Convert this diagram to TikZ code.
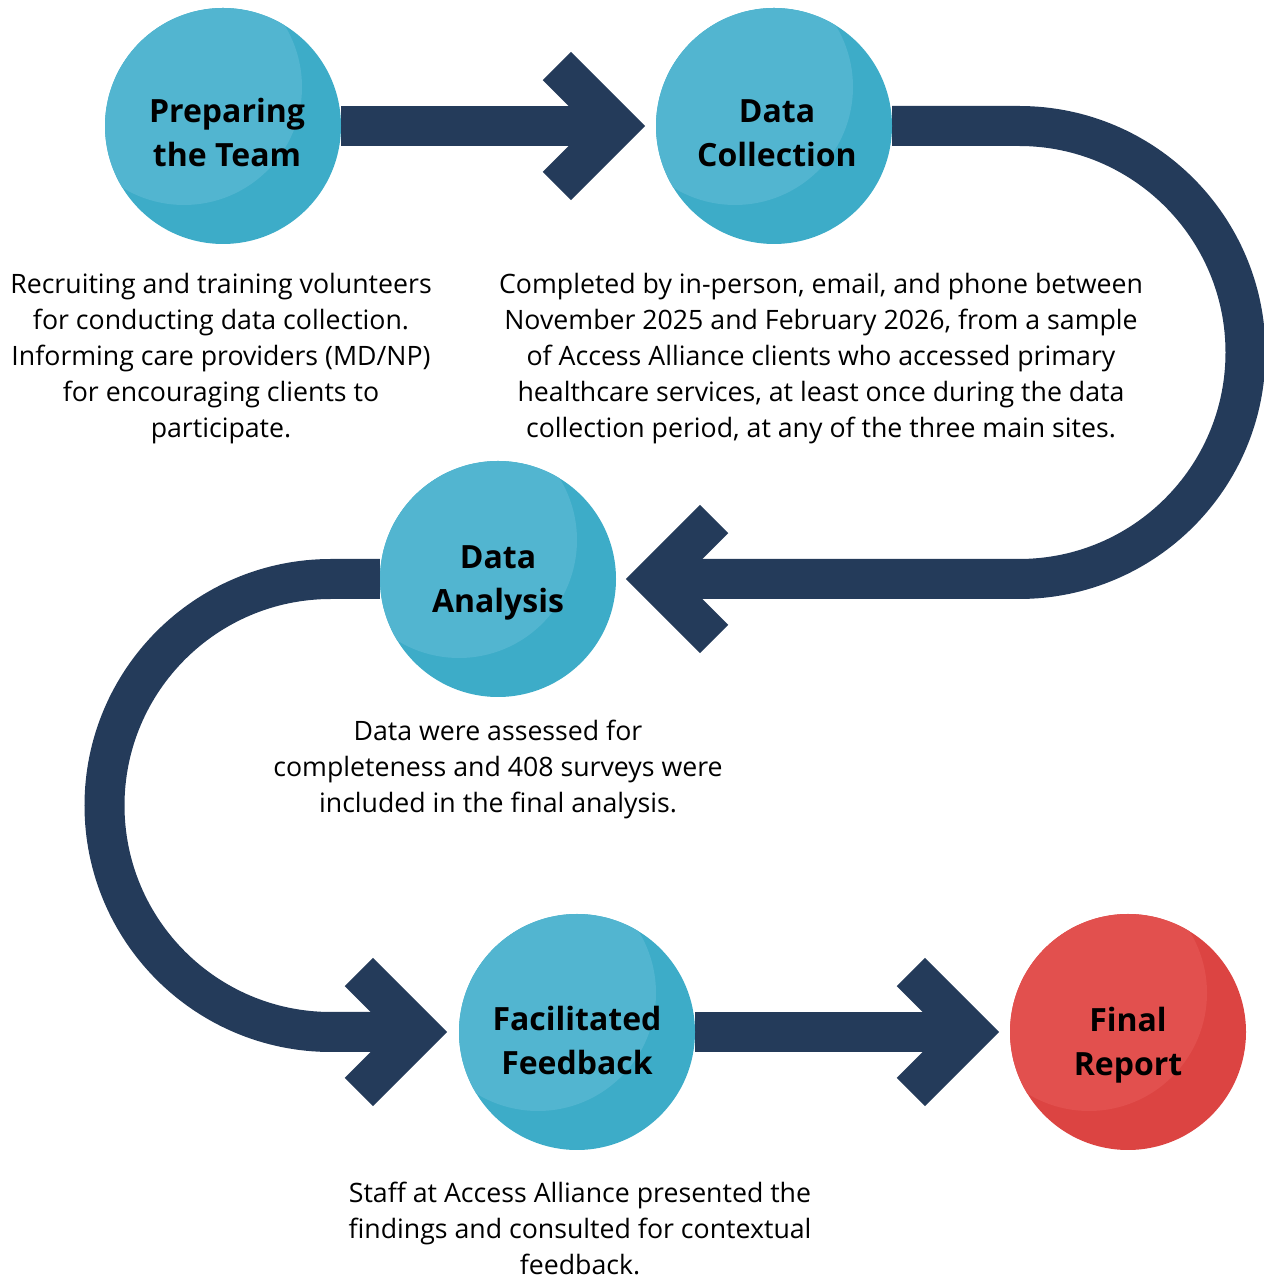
\documentclass[tikz,border=0pt]{standalone}
\usepackage{fontspec}
\setmainfont{Open Sans}
\usetikzlibrary{backgrounds}

\definecolor{navy}{HTML}{243B5A}
\definecolor{tealhi}{HTML}{52B5D0}
\definecolor{teallo}{HTML}{3DACC8}
\definecolor{redhi}{HTML}{E2504E}
\definecolor{redlo}{HTML}{DC4442}

\tikzset{
  stage/.style 2 args={circle, minimum size=236pt, inner sep=0pt, fill=#1,
    path picture={\fill[#2] ([shift={(-39,39)}]path picture bounding box.center) circle[radius=118];}},
  title/.style={font=\bfseries\fontsize{32}{44}\selectfont, align=center, inner sep=0pt},
  note/.style={font=\fontsize{26.7}{36}\selectfont, align=center, inner sep=0pt},
  band/.style={draw=navy, line width=40pt},
  chev/.pic={\draw[band] (-60,60) -- (0,0) -- (-60,-60);}
}

\begin{document}
\begin{tikzpicture}[x=1pt, y=1pt]
    \useasboundingbox (0,0) rectangle (1264,1278);

    % the five stages
    \node[stage={teallo}{tealhi}] (prep) at (223,1152) {};
    \node[stage={teallo}{tealhi}] (coll) at (774,1152) {};
    \node[stage={teallo}{tealhi}] (anal) at (498,699) {};
    \node[stage={teallo}{tealhi}] (feed) at (577,246) {};
    \node[stage={redlo}{redhi}] (final) at (1128,246) {};

    \node[title] (prep-t) at ([shift={(4,-7)}]prep) {Preparing\\the Team};
    \node[title] (coll-t) at ([shift={(3,-7)}]coll) {Data\\Collection};
    \node[title] (anal-t) at ([yshift=-4]anal) {Data\\Analysis};
    \node[title] (feed-t) at ([yshift=-9]feed) {Facilitated\\Feedback};
    \node[title] (final-t) at ([yshift=-13]final) {Final\\Report};

    % chevron corners, just off each circle
    \coordinate (h1) at ([xshift=-39]coll.west);
    \coordinate (h2) at ([xshift=38]anal.east);
    \coordinate (h3) at ([xshift=-40]feed.west);
    \coordinate (h4) at ([xshift=-39]final.west);

    % the winding path behind the circles
    \begin{scope}[on background layer]
        \draw[band] (prep) -- (h1);
        \draw[band] (coll) -- ++(245,0) arc[start angle=90, end angle=-90, radius=226.5] -- (h2);
        \draw[band] (anal) -- ++(-167,0) arc[start angle=90, end angle=270, radius=226.5] -- (h3);
        \draw[band] (feed) -- (h4);
    \end{scope}

    \pic at (h1) {chev};
    \pic[rotate=180] at (h2) {chev};
    \pic at (h3) {chev};
    \pic at (h4) {chev};

    % descriptions
    \node[note] (prep-n) at (221,919) {Recruiting and training volunteers\\for conducting data collection.\\Informing care providers (MD/NP)\\for encouraging clients to\\participate.};
    \node[note] (coll-n) at (821,919) {Completed by in-person, email, and phone between\\November 2025 and February 2026, from a sample\\of Access Alliance clients who accessed primary\\healthcare services, at least once during the data\\collection period, at any of the three main sites.};
    \node[note] (anal-n) at (498,509) {Data were assessed for\\completeness and 408 surveys were\\included in the final analysis.};
    \node[note] (feed-n) at (580,50) {Staff at Access Alliance presented the\\findings and consulted for contextual\\feedback.};
\end{tikzpicture}
\end{document}
